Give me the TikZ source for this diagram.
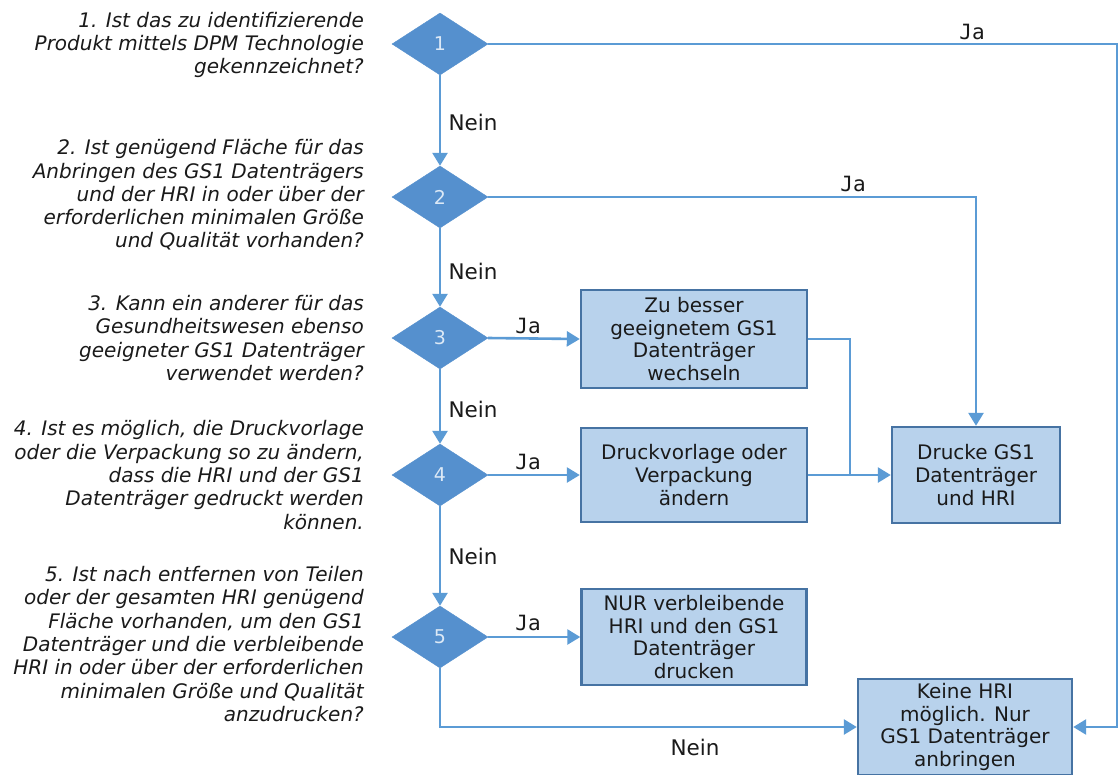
\documentclass[tikz,border=0pt]{standalone}
\usepackage{fontspec}
\setmainfont{DejaVu Sans}
\newfontfamily\jafont{DejaVu Sans Mono}
\usetikzlibrary{shapes.geometric,arrows.meta}
\definecolor{lineblue}{HTML}{5B9BD5}
\definecolor{diafill}{HTML}{5590CE}
\definecolor{boxfill}{HTML}{B8D2EC}
\definecolor{boxdraw}{HTML}{4673A3}
\definecolor{numcol}{HTML}{DCE9F6}
\definecolor{txt}{HTML}{1A1A1A}
\newcommand\qfont{\fontsize{20}{23.3}\selectfont\itshape\color{txt}}
\newcommand\bfontx{\fontsize{20}{22.7}\selectfont\color{txt}}
\begin{document}
\begin{tikzpicture}[x=1pt,y=-1pt,
  question/.style={anchor=east,align=right,inner sep=0pt,font=\qfont},
  decision/.style={diamond,aspect=1.5,inner sep=0pt,minimum width=96pt,minimum height=62pt,
    fill=diafill,draw=diafill,text=numcol,font=\fontsize{19}{22}\selectfont},
  actbox/.style={rectangle,draw=boxdraw,line width=2.4pt,fill=boxfill,align=center,
    inner sep=2pt,font=\bfontx},
  conn/.style={draw=lineblue,line width=2.6pt},
  arr/.style={conn,-{Triangle[length=13pt,width=15pt]}},
  nein/.style={inner sep=0pt,font=\fontsize{21.5}{24}\selectfont\color{txt}},
  ja/.style={inner sep=0pt,font=\fontsize{21}{24}\selectfont\jafont\color{txt}}
]
\useasboundingbox (0,0) rectangle (1119,774);
\clip (0,0) rectangle (1119,774);
\fill[white] (0,0) rectangle (1119,774);

% questions
\node[question] (q1) at (364,45) {1. Ist das zu identifizierende\\Produkt mittels DPM Technologie\\gekennzeichnet?};
\node[question] (q2) at (364,195) {2. Ist genügend Fläche für das\\Anbringen des GS1 Datenträgers\\und der HRI in oder über der\\erforderlichen minimalen Größe\\und Qualität vorhanden?};
\node[question] (q3) at (364,338) {3. Kann ein anderer für das\\Gesundheitswesen ebenso\\geeigneter GS1 Datenträger\\verwendet werden?};
\node[question] (q4) at (364,475) {4. Ist es möglich, die Druckvorlage\\oder die Verpackung so zu ändern,\\dass die HRI und der GS1\\Datenträger gedruckt werden\\können.};
\node[question] (q5) at (364,644) {5. Ist nach entfernen von Teilen\\oder der gesamten HRI genügend\\Fläche vorhanden, um den GS1\\Datenträger und die verbleibende\\HRI in oder über der erforderlichen\\minimalen Größe und Qualität\\anzudrucken?};

% decisions
\node[decision] (d1) at (440,44) {1};
\node[decision] (d2) at (440,197) {2};
\node[decision] (d3) at (440,338) {3};
\node[decision] (d4) at (440,475) {4};
\node[decision] (d5) at (440,637) {5};

% boxes
\node[actbox,minimum width=226pt,minimum height=98pt] (b1) at (694,339) {Zu besser\\geeignetem GS1\\Datenträger\\wechseln};
\node[actbox,minimum width=226pt,minimum height=94pt] (b2) at (694,475) {Druckvorlage oder\\Verpackung\\ändern};
\node[actbox,minimum width=225pt,minimum height=96pt] (b3) at (694,637) {NUR verbleibende\\HRI und den GS1\\Datenträger\\drucken};
\node[actbox,minimum width=168pt,minimum height=96pt] (dr) at (976,475) {Drucke GS1\\Datenträger\\und HRI};
\node[actbox,minimum width=214pt,minimum height=96pt] (k) at (965,727) {Keine HRI\\möglich. Nur\\GS1 Datenträger\\anbringen};

% helper coordinates
\coordinate (c1) at (1117,44);
\coordinate (j) at (850,475);

% connectors
\draw[arr] (d1.south) -- (d2.north);
\draw[arr] (d2.south) -- (d3.north);
\draw[arr] (d3.south) -- (d4.north);
\draw[arr] (d4.south) -- (d5.north);
\draw[arr] (d1.east) -- (c1) |- (k.east);
\draw[arr] (d2.east) -| (dr.north);
\draw[arr] (d3.east) -- (b1.west);
\draw[arr] (d4.east) -- (b2.west);
\draw[arr] (d5.east) -- (b3.west);
\draw[conn] (b1.east) -| (j);
\draw[arr] (b2.east) -- (dr.west);
\draw[arr] (d5.south) |- (k.west);

% labels
\node[ja] (l1) at (972,32) {Ja};
\node[ja] (l2) at (853,184) {Ja};
\node[ja] (l3) at (528,326) {Ja};
\node[ja] (l4) at (528,462) {Ja};
\node[ja] (l5) at (528,623) {Ja};
\node[nein] (n1) at (473,122) {Nein};
\node[nein] (n2) at (473,271) {Nein};
\node[nein] (n3) at (473,409) {Nein};
\node[nein] (n4) at (473,556) {Nein};
\node[nein] (n5) at (695,747) {Nein};
\end{tikzpicture}
\end{document}
